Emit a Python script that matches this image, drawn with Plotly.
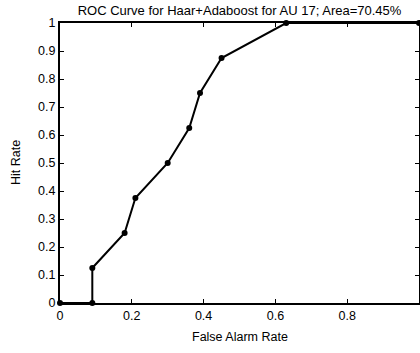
import plotly.graph_objects as go

false_alarm = [0, 0.09, 0.09, 0.18, 0.21, 0.30, 0.36, 0.39, 0.45, 0.63, 1.0]
hit_rate = [0, 0, 0.125, 0.25, 0.375, 0.5, 0.625, 0.75, 0.875, 1.0, 1.0]
title_text = "ROC Curve for Haar+Adaboost for AU 17; Area=70.45%"
x_title = "False Alarm Rate"
y_title = "Hit Rate"

fig = go.Figure()
fig.add_trace(go.Scatter(
    x=false_alarm, y=hit_rate, mode="lines+markers",
    line=dict(color="black", width=2),
    marker=dict(color="black", size=6),
    cliponaxis=False,
))

font = "Liberation Sans, Arial, sans-serif"
W, H = 420, 353
L, R, T, B = 60, 1, 23, 50
pw = W - L - R
fig.update_layout(
    width=W, height=H,
    margin=dict(l=L, r=R, t=T, b=B, autoexpand=False),
    paper_bgcolor="white", plot_bgcolor="white",
    showlegend=False,
    font=dict(family=font, size=12, color="black"),
    title=dict(text=title_text, x=0.5, xanchor="center", xref="paper",
               y=1 - 10 / H, yref="container", yanchor="middle",
               font=dict(family=font, size=13, color="black")),
)
fig.update_xaxes(
    range=[0, 1], tickmode="array", tickvals=[0, 0.2, 0.4, 0.6, 0.8, 1],
    ticktext=["0", "0.2", "0.4", "0.6", "0.8", "1"],
    ticks="inside", ticklen=4, tickcolor="black", mirror="ticks",
    showline=True, linecolor="black", linewidth=2, showgrid=False, zeroline=False,
    automargin=False,
    tickfont=dict(size=12.5),
)
fig.update_yaxes(
    range=[0, 1], tickmode="array", tickvals=[i / 10 for i in range(11)],
    ticktext=["0", "0.1", "0.2", "0.3", "0.4", "0.5", "0.6", "0.7", "0.8", "0.9", "1"],
    ticks="inside", ticklen=4, tickcolor="black", mirror="ticks",
    showline=True, linecolor="black", linewidth=2, showgrid=False, zeroline=False,
    automargin=False, ticklabelstandoff=0,
    tickfont=dict(size=12.5),
)
fig.add_annotation(text=x_title, xref="paper", yref="paper", x=0.5,
                   y=-(337 - (H - B)) / (H - T - B), xanchor="center", yanchor="middle",
                   showarrow=False, font=dict(size=12.5))
fig.add_annotation(text=y_title, xref="paper", yref="paper", x=(16 - L) / pw,
                   y=0.5, xanchor="center", yanchor="middle", textangle=-90,
                   showarrow=False, font=dict(size=12.5))
fig.write_html("out.html", post_script="document.body.style.margin='0';",
               config={"displayModeBar": False})
